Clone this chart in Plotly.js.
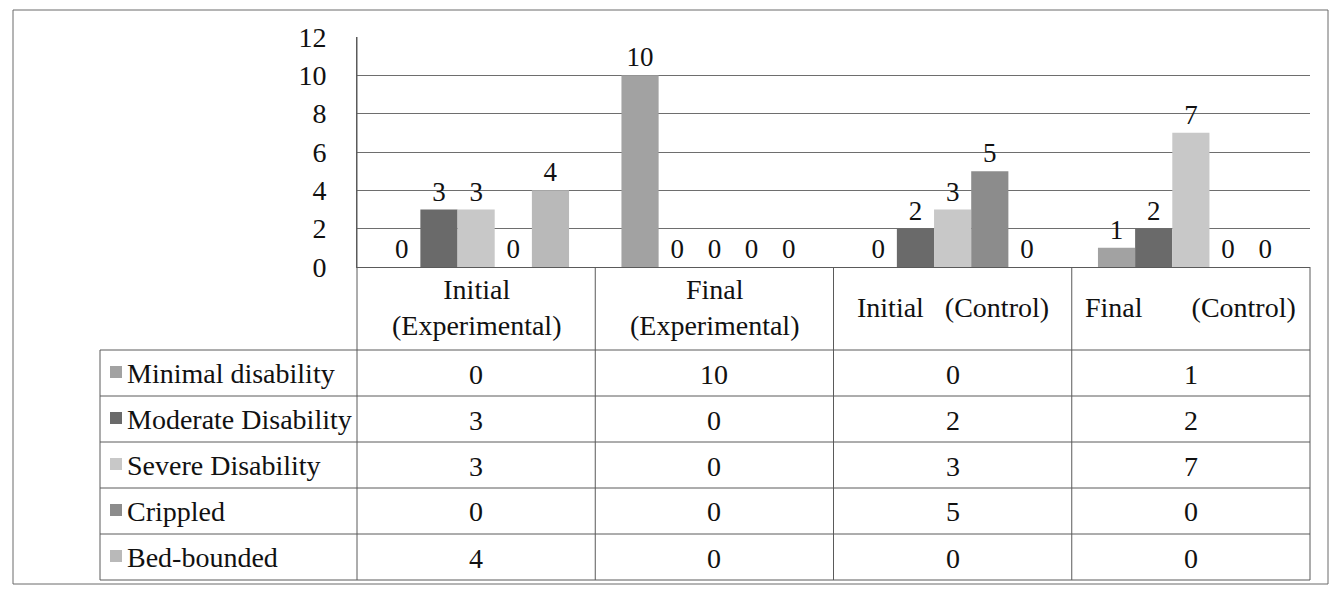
<!DOCTYPE html>
<html>
<head>
<meta charset="utf-8">
<script src="https://cdn.plot.ly/plotly-3.0.1.min.js"></script>
<style>
  html, body { margin: 0; padding: 0; background: #ffffff; }
  #chart { width: 1333px; height: 589px; }
</style>
</head>
<body>
<div id="chart"></div>
<script>
// ---- data ----
const categories = ["Initial (Experimental)", "Final (Experimental)", "Initial (Control)", "Final (Control)"];
const headerLabels = ["Initial<br>(Experimental)", "Final<br>(Experimental)",
  "Initial\u00a0\u00a0\u00a0(Control)", "Final\u00a0\u00a0\u00a0\u00a0\u00a0\u00a0\u00a0(Control)"];
const seriesNames = ["Minimal disability", "Moderate Disability", "Severe Disability", "Crippled", "Bed-bounded"];
const minimalDisability  = [0, 10, 0, 1];
const moderateDisability = [3, 0, 2, 2];
const severeDisability   = [3, 0, 3, 7];
const crippled           = [0, 0, 5, 0];
const bedBounded         = [4, 0, 0, 0];
const yTicks = [0, 2, 4, 6, 8, 10, 12];

const seriesValues = [minimalDisability, moderateDisability, severeDisability, crippled, bedBounded];
const seriesColors = ["#a2a2a2", "#6a6a6a", "#c8c8c8", "#8c8c8c", "#b9b9b9"];

// ---- layout geometry (pixels) ----
const W = 1333, H = 589;
const PL = 357, PR = 1310, PT = 37, PB = 267;
const headerBottom = 350, rowH = 46, nRows = seriesNames.length;
const tableBottom = headerBottom + rowH * nRows;
const tableLeft = 100;
const px = p => (p - PL) / (PR - PL);
const py = p => (PB - p) / (PB - PT);

const FONT = "Liberation Serif";
const lineColor = "#5a5a5a";

const traces = seriesNames.map((name, i) => ({
  type: "bar",
  name: name,
  x: categories,
  y: seriesValues[i],
  marker: { color: seriesColors[i], line: { width: 0 } },
  text: seriesValues[i].map(String),
  textposition: "outside",
  constraintext: "none",
  cliponaxis: false,
  textfont: { family: FONT, size: 27, color: "#111" },
  hoverinfo: "skip"
}));

const shapes = [];
const annotations = [];
const line = (x0, y0, x1, y1, w) => shapes.push({
  type: "line", xref: "paper", yref: "paper",
  x0: px(x0), y0: py(y0), x1: px(x1), y1: py(y1),
  line: { color: lineColor, width: w || 1 }
});

// outer border
shapes.push({ type: "rect", xref: "paper", yref: "paper",
  x0: px(13), y0: py(10), x1: px(1328), y1: py(584),
  line: { color: "#6a6a6a", width: 1 } });

// table vertical lines at category boundaries
for (let k = 0; k <= categories.length; k++) {
  shapes.push({ type: "line", xref: "paper", yref: "paper",
    x0: k / categories.length, x1: k / categories.length,
    y0: py(k === 0 ? PT : PB), y1: py(tableBottom),
    line: { color: lineColor, width: 1 } });
}
// table left column line
line(tableLeft, headerBottom, tableLeft, tableBottom);
// table horizontal lines
for (let r = 0; r <= nRows; r++) {
  const yy = headerBottom + r * rowH;
  line(tableLeft, yy, PR, yy);
}

// header labels
categories.forEach((c, j) => {
  annotations.push({ xref: "x", yref: "paper", x: c, y: py((PB + headerBottom) / 2 - 1),
    text: headerLabels[j], showarrow: false, xanchor: "center", yanchor: "middle",
    font: { family: FONT, size: 28, color: "#111" } });
});

// table rows
seriesNames.forEach((name, i) => {
  const cy = headerBottom + rowH * (i + 0.5);
  // legend key
  shapes.push({ type: "rect", xref: "paper", yref: "paper",
    x0: px(110), x1: px(122), y0: py(cy - 7), y1: py(cy + 5),
    fillcolor: seriesColors[i], line: { width: 0 } });
  annotations.push({ xref: "paper", yref: "paper", x: px(125), y: py(cy),
    text: name, showarrow: false, xanchor: "left", yanchor: "middle",
    font: { family: FONT, size: 28, color: "#111" } });
  categories.forEach((c, j) => {
    annotations.push({ xref: "x", yref: "paper", x: c, y: py(cy + 1),
      text: String(seriesValues[i][j]), showarrow: false, xanchor: "center", yanchor: "middle",
      font: { family: FONT, size: 28, color: "#111" } });
  });
});

const layout = {
  width: W, height: H,
  margin: { l: PL, r: W - PR, t: PT, b: H - PB, pad: 0 },
  paper_bgcolor: "#ffffff",
  plot_bgcolor: "#ffffff",
  barmode: "group",
  bargap: 0.22,
  bargroupgap: 0,
  showlegend: false,
  font: { family: FONT, size: 27, color: "#111" },
  xaxis: {
    type: "category",
    showticklabels: false,
    ticks: "",
    showgrid: false,
    showline: true,
    linecolor: lineColor,
    linewidth: 1,
    zeroline: false,
    fixedrange: true
  },
  yaxis: {
    range: [0, 12],
    tickvals: yTicks,
    ticktext: yTicks.map(String),
    showgrid: true,
    gridcolor: "#6e6e6e",
    gridwidth: 1,
    showline: true,
    linecolor: lineColor,
    linewidth: 1,
    zeroline: false,
    ticks: "",
    ticklabelstandoff: 24,
    tickfont: { family: FONT, size: 28, color: "#111" },
    fixedrange: true
  },
  shapes: shapes,
  annotations: annotations
};

Plotly.newPlot("chart", traces, layout, { displayModeBar: false, staticPlot: true });
</script>
</body>
</html>
